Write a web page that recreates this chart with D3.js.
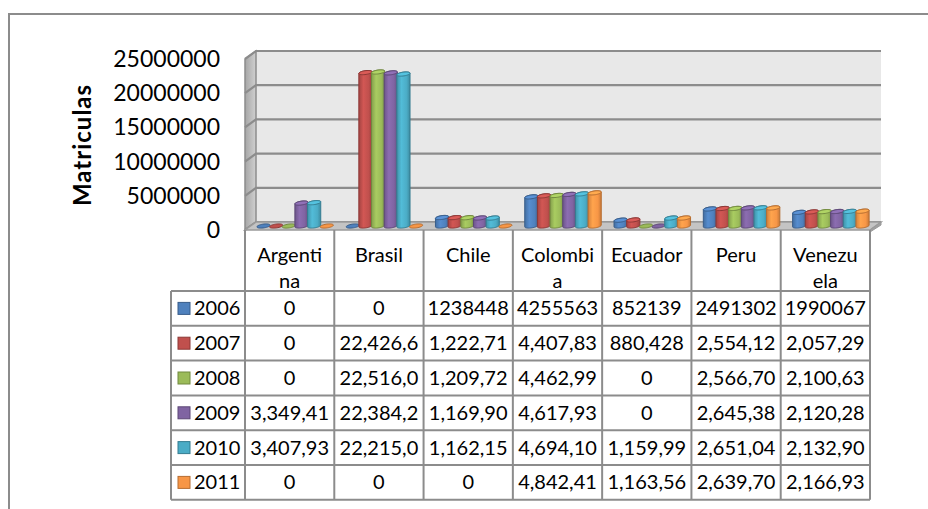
<!DOCTYPE html>
<html>
<head>
<meta charset="utf-8">
<script src="https://cdn.jsdelivr.net/npm/d3@7"></script>
<style>
  html, body { margin: 0; padding: 0; background: #fff; }
  svg { display: block; font-family: Lato, "Open Sans", sans-serif; }
</style>
</head>
<body>
<svg id="chart" width="928" height="509"></svg>
<script>
// Enrolment (matrículas) by country and year
const categories = ["Argentina", "Brasil", "Chile", "Colombia", "Ecuador", "Peru", "Venezuela"];
const headerLines = [["Argenti", "na"], ["Brasil"], ["Chile"], ["Colombi", "a"], ["Ecuador"], ["Peru"], ["Venezu", "ela"]];
const years = ["2006", "2007", "2008", "2009", "2010", "2011"];

const v2006 = [0, 0, 1238448, 4255563, 852139, 2491302, 1990067];
const v2007 = [0, 22426600, 1222710, 4407830, 880428, 2554120, 2057290];
const v2008 = [0, 22516000, 1209720, 4462990, 0, 2566700, 2100630];
const v2009 = [3349410, 22384200, 1169900, 4617930, 0, 2645380, 2120280];
const v2010 = [3407930, 22215000, 1162150, 4694100, 1159990, 2651040, 2132900];
const v2011 = [0, 0, 0, 4842410, 1163560, 2639700, 2166930];

const yTicks = [0, 5000000, 10000000, 15000000, 20000000, 25000000];
const axisTitle = "Matriculas";

const fills = ["#4f81bd", "#c0504d", "#9bbb59", "#8064a2", "#4bacc6", "#f79646"];
const edges = ["#385d8a", "#8c3836", "#71893f", "#5c4776", "#357d91", "#b66d31"];

const seriesValues = [v2006, v2007, v2008, v2009, v2010, v2011];
const series = years.map((yr, i) => ({ year: yr, values: seriesValues[i], fill: fills[i], edge: edges[i] }));

// ---- geometry ----
const svg = d3.select("#chart");
const DX = 11, DY = 8;            // screen offset of the full floor depth
const gridColor = "#8c8c8c";

const x = d3.scaleBand().domain(categories).range([245, 870]);
const y = d3.scaleLinear().domain([0, 25000000]).range([230, 59]);
const xInner = d3.scaleBand().domain(years).range([0, x.bandwidth()])
  .paddingInner(0.05).paddingOuter(0.55);

// outer chart frame
svg.append("rect").attr("x", 9).attr("y", 14).attr("width", 960).attr("height", 540)
  .attr("fill", "#fff").attr("stroke", gridColor).attr("stroke-width", 2);

const defs = svg.append("defs");

// ---- walls and floor ----
const xL = x.range()[0], xR = x.range()[1];
const yTop = y(25000000), yBase = y(0);

const sideGrad = defs.append("linearGradient").attr("id", "sideWall")
  .attr("x1", 0).attr("x2", 1).attr("y1", 0).attr("y2", 0);
sideGrad.append("stop").attr("offset", "0%").attr("stop-color", "#a6a6a6");
sideGrad.append("stop").attr("offset", "100%").attr("stop-color", "#d0d0d0");

// back wall
svg.append("rect")
  .attr("x", xL + DX).attr("y", yTop - DY)
  .attr("width", xR - xL).attr("height", yBase - yTop)
  .attr("fill", "#e8e8e8");

// side wall
svg.append("path")
  .attr("d", `M${xL},${yTop}L${xL + DX},${yTop - DY}L${xL + DX},${yBase - DY}L${xL},${yBase}Z`)
  .attr("fill", "url(#sideWall)").attr("stroke", gridColor).attr("stroke-width", 1.5);

// gridlines across side and back wall
yTicks.forEach(t => {
  const yy = y(t);
  svg.append("path")
    .attr("d", `M${xL},${yy}L${xL + DX},${yy - DY}L${xR + DX},${yy - DY}`)
    .attr("fill", "none").attr("stroke", gridColor).attr("stroke-width", 2.2);
});

// floor slab
svg.append("path")
  .attr("d", `M${xL},${yBase}L${xR},${yBase}L${xR + DX},${yBase - DY}L${xL + DX},${yBase - DY}Z`)
  .attr("fill", "#c4c4c4").attr("stroke", "#9a9a9a").attr("stroke-width", 1.5);
svg.append("path")
  .attr("d", `M${xR},${yBase}L${xR + DX},${yBase - DY}L${xR + DX},${yBase - DY + 3}L${xR},${yBase + 2}Z`)
  .attr("fill", "#a0a0a0").attr("stroke", "#9a9a9a").attr("stroke-width", 1);

// ---- cylinders ----
const A = 0.45, B = 0.35;           // shear of the round caps in the oblique view
const r = xInner.bandwidth() / 2;
const thR = Math.atan(A);

function capPoint(cx, cy, th) {
  return [cx + r * Math.cos(th) + A * r * Math.sin(th), cy - B * r * Math.sin(th)];
}
function arc(cx, cy, t0, t1, n) {
  return d3.range(n + 1).map(i => capPoint(cx, cy, t0 + (t1 - t0) * i / n));
}
const line = d3.line();

series.forEach((s, si) => {
  const g = defs.append("linearGradient").attr("id", "body" + si)
    .attr("x1", 0).attr("x2", 1).attr("y1", 0).attr("y2", 0);
  const c = d3.color(s.fill);
  g.append("stop").attr("offset", "0%").attr("stop-color", c.darker(0.45));
  g.append("stop").attr("offset", "35%").attr("stop-color", c.brighter(0.25));
  g.append("stop").attr("offset", "75%").attr("stop-color", c);
  g.append("stop").attr("offset", "100%").attr("stop-color", c.darker(0.6));
});

const barLayer = svg.append("g");
categories.forEach((cat, ci) => {
  series.forEach((s, si) => {
    const v = s.values[ci];
    const cx = x(cat) + xInner(s.year) + xInner.bandwidth() / 2 + DX / 2;
    const base = y(0) - DY / 2;
    const top = y(v) - DY / 2;
    if (v > 0) {
      const front = arc(cx, base, thR + Math.PI, thR + 2 * Math.PI, 24);
      const back = arc(cx, top, thR, thR + Math.PI, 24);
      barLayer.append("path")
        .attr("d", line(front.concat(back)) + "Z")
        .attr("fill", `url(#body${si})`)
        .attr("stroke", s.edge).attr("stroke-width", 1);
    }
    barLayer.append("path")
      .attr("d", line(arc(cx, top, 0, 2 * Math.PI, 36)) + "Z")
      .attr("fill", d3.color(s.fill).brighter(v > 0 ? 0.35 : 0))
      .attr("stroke", s.edge).attr("stroke-width", 1);
  });
});

// ---- value axis ----
svg.append("g").selectAll("text").data(yTicks).join("text")
  .attr("x", 220).attr("y", d => y(d)).attr("dy", "0.35em")
  .attr("text-anchor", "end").attr("font-size", 23).attr("fill", "#000")
  .text(d => d3.format("d")(d));

svg.append("text")
  .attr("transform", "translate(91,145) rotate(-90)")
  .attr("text-anchor", "middle").attr("font-size", 24).attr("font-weight", "bold")
  .attr("letter-spacing", 1).attr("fill", "#000").text(axisTitle);

// ---- data table ----
const tableTop = y(0), headTop = 291, rowH = 34.8, keyLeft = 171;
const tableBottom = headTop + rowH * years.length;
const table = svg.append("g").attr("font-size", 20).attr("fill", "#000");

// header: category names
categories.forEach((cat, ci) => {
  const cx = x(cat) + x.bandwidth() / 2;
  headerLines[ci].forEach((ln, li) => {
    table.append("text").attr("x", cx).attr("y", 255 + li * 26).attr("dy", "0.35em")
      .attr("text-anchor", "middle").text(ln);
  });
});

// cells; long numbers are clipped to the cell width (eight characters)
const fmtPlain = d3.format("d"), fmtGroup = d3.format(",d");
series.forEach((s, si) => {
  const cy = headTop + si * rowH + rowH / 2;
  const fmt = si === 0 ? fmtPlain : fmtGroup;
  categories.forEach((cat, ci) => {
    table.append("text").attr("x", x(cat) + x.bandwidth() / 2).attr("y", cy).attr("dy", "0.35em")
      .attr("text-anchor", "middle").text(fmt(s.values[ci]).slice(0, 8));
  });
  // legend key
  table.append("rect").attr("x", 178).attr("y", cy - 6).attr("width", 12).attr("height", 12)
    .attr("fill", s.fill).attr("stroke", s.edge).attr("stroke-width", 1);
  table.append("text").attr("x", 194).attr("y", cy).attr("dy", "0.35em").text(s.year);
});

// grid lines of the table
const lines = svg.append("g").attr("stroke", gridColor).attr("stroke-width", 2).attr("fill", "none");
const bounds = categories.map(c => x(c)).concat([xR]);
bounds.forEach(bx => {
  lines.append("line").attr("x1", bx).attr("x2", bx).attr("y1", tableTop).attr("y2", tableBottom);
});
lines.append("line").attr("x1", keyLeft).attr("x2", keyLeft).attr("y1", headTop).attr("y2", tableBottom);
d3.range(years.length + 1).forEach(i => {
  const yy = headTop + i * rowH;
  lines.append("line").attr("x1", keyLeft).attr("x2", xR).attr("y1", yy).attr("y2", yy);
});
</script>
</body>
</html>
